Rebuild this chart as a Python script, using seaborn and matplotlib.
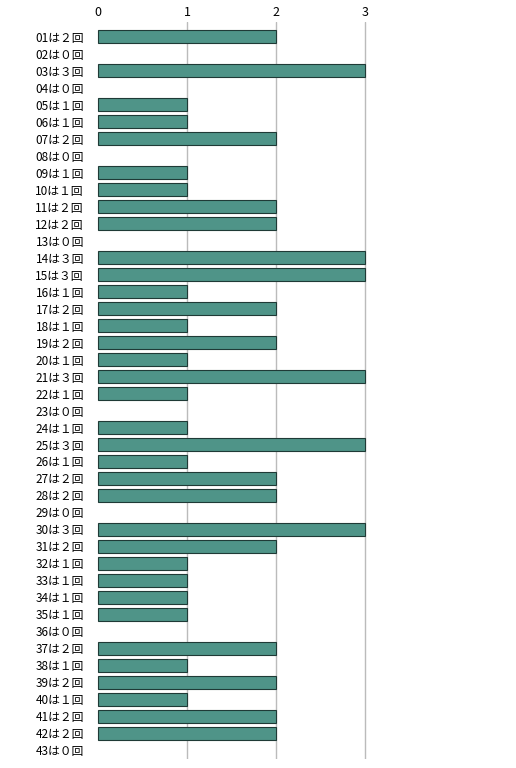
import matplotlib
matplotlib.use("Agg")
import matplotlib.pyplot as plt
import seaborn as sns
import pandas as pd

ids = [f"{i:02d}" for i in range(1, 44)]
counts = [2,0,3,0,1,1,2,0,1,1,2,2,0,3,3,1,2,1,2,1,3,1,0,1,3,1,2,2,0,3,2,1,1,1,1,0,2,1,2,1,2,2,0]
fw = str.maketrans("0123456789", "０１２３４５６７８９")
labels = [f"{i}は{str(c).translate(fw)}回" for i, c in zip(ids, counts)]

df = pd.DataFrame({"label": labels, "count": counts})
sns.set_style("white")
plt.rcParams['font.family'] = ['Noto Sans CJK JP', 'DejaVu Sans']

fig = plt.figure(figsize=(5.16, 7.68), dpi=100)
ax = fig.add_axes([0.168, 0.012, 0.832, 0.96])
sns.barplot(data=df, x="count", y="label", orient="h", color="#4f9488",
            edgecolor="#1f3a36", linewidth=0.8, width=0.75, saturation=1, ax=ax)
for p in ax.patches:
    if p.get_width() == 0:
        p.set_visible(False)
ax.set_xlim(-0.13, 4.7)
ax.set_ylim(len(ids) - 0.5, -0.9)
ax.xaxis.tick_top()
ax.set_xticks([0, 1, 2, 3])
ax.set_xticklabels(["0", "1", "2", "3"], fontsize=9)
for x in [1, 2, 3]:
    ax.axvline(x, color="#bbbbbb", lw=1, zorder=0)
ax.set_xlabel("")
ax.set_ylabel("")
ax.tick_params(axis="y", labelsize=8.5, length=0, pad=2, labelcolor="black")
ax.tick_params(axis="x", length=0, pad=2, labelcolor="black")
for s in ax.spines.values():
    s.set_visible(False)
fig.savefig("out.png", dpi=100)
